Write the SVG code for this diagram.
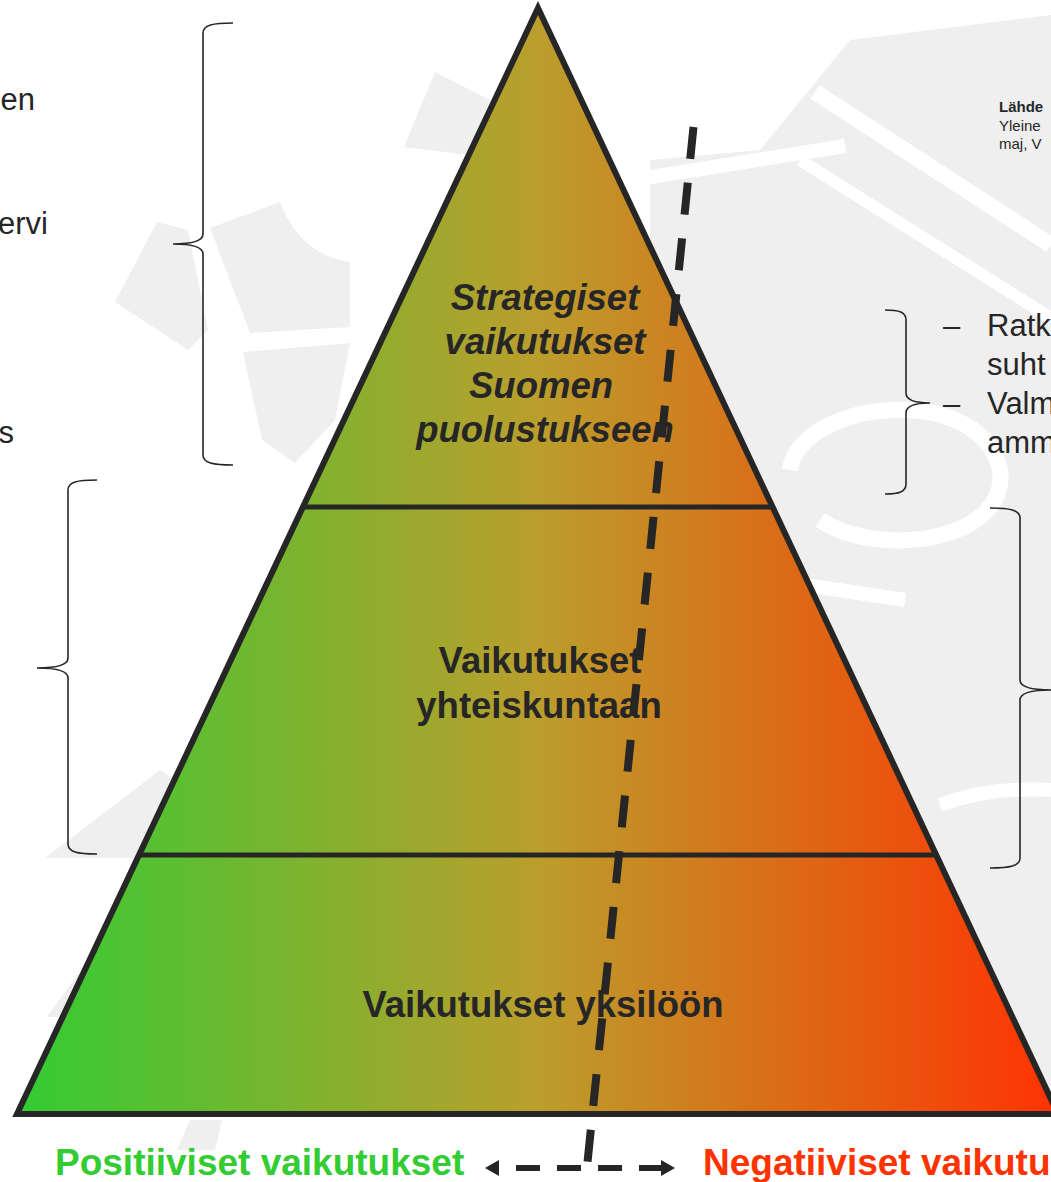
<svg xmlns="http://www.w3.org/2000/svg" width="1051" height="1182" viewBox="0 0 1051 1182">
  <defs>
    <linearGradient id="grad" gradientUnits="userSpaceOnUse" x1="17" y1="0" x2="1058" y2="0">
      <stop offset="0" stop-color="#33cc33"/>
      <stop offset="0.5" stop-color="#bb9e2c"/>
      <stop offset="1" stop-color="#ff3300"/>
    </linearGradient>
    <marker id="arrow" viewBox="0 0 14 16" refX="2" refY="8" markerWidth="14" markerHeight="16" markerUnits="userSpaceOnUse" orient="auto-start-reverse">
      <path d="M0,0 L14,8 L0,16 Z" fill="#262626"/>
    </marker>
    <style>
      .wm { fill: #efefef; }
      .wms { stroke: #ffffff; fill: none; }
      .brace { fill: none; stroke: #262626; stroke-width: 1.6; }
      .lvl { font-family: "Liberation Sans", Arial, sans-serif; font-weight: bold; font-size: 36.5px; fill: #262626; text-anchor: middle; }
      .it { font-style: italic; }
      .side { font-family: "Liberation Sans", Arial, sans-serif; font-size: 31px; fill: #262626; }
      .src { font-family: "Liberation Sans", Arial, sans-serif; font-size: 15px; fill: #262626; }
      .axis { font-family: "Liberation Sans", Arial, sans-serif; font-weight: bold; font-size: 37px; }
      .divider { stroke: #262626; stroke-width: 5; }
    </style>
  </defs>

  <rect width="1051" height="1182" fill="#ffffff"/>

  <g id="watermark">
    <path class="wm" d="M650,160 L760,150 L850,40 L1051,15 L1051,1115 L650,1115 Z"/>
    <line class="wms" x1="645" y1="178" x2="845" y2="146" stroke-width="14"/>
    <line class="wms" x1="815" y1="92" x2="1051" y2="245" stroke-width="16"/>
    <line class="wms" x1="800" y1="160" x2="1051" y2="318" stroke-width="12"/>
    <path class="wms" d="M790,470 C800,400 980,380 1000,470 C1010,540 880,560 820,520" stroke-width="16"/>
    <line class="wms" x1="805" y1="585" x2="905" y2="600" stroke-width="14"/>
    <path class="wms" d="M940,805 C980,790 1020,788 1051,790" stroke-width="14"/>
    <path class="wm" d="M404,147 L435,72 L490,100 L470,155 Z"/>
    <path class="wm" d="M115,302 L157,222 L188,230 L208,330 L188,350 Z"/>
    <path class="wm" d="M210,228 L280,202 C295,240 320,258 350,262 L350,327 L250,333 Z"/>
    <path class="wm" d="M243,352 L350,343 L335,420 L295,463 L262,440 Z"/>
    <path class="wm" d="M45,858 L160,770 L180,783 L150,858 Z"/>
    <path class="wm" d="M47,1017 L95,950 L112,962 L78,1017 Z"/>
    <path class="wm" d="M177,1150 L190,1120 L222,1120 L215,1150 Z"/>
  </g>

  <g id="pyramid">
    <polygon points="538,8 17,1114 1058,1114" fill="url(#grad)" stroke="#262626" stroke-width="6" stroke-linejoin="miter"/>
    <line class="divider" x1="303" y1="507" x2="772" y2="507"/>
    <line class="divider" x1="139" y1="855" x2="936" y2="855"/>
  </g>

  <g id="level-strategic">
    <text class="lvl it" x="545" y="310">Strategiset</text>
    <text class="lvl it" x="545" y="354">vaikutukset</text>
    <text class="lvl it" x="541" y="398">Suomen</text>
    <text class="lvl it" x="545" y="442">puolustukseen</text>
  </g>

  <g id="level-society">
    <text class="lvl" x="540" y="673">Vaikutukset</text>
    <text class="lvl" x="539" y="718">yhteiskuntaan</text>
  </g>

  <g id="level-individual">
    <text class="lvl" x="543" y="1017">Vaikutukset yksilöön</text>
  </g>

  <g id="left-notes">
    <text class="side" x="35" y="110" text-anchor="end">en</text>
    <text class="side" x="48" y="234" text-anchor="end">ervi</text>
    <text class="side" x="14" y="443" text-anchor="end">s</text>
    <path class="brace" d="M233,23 C213,23 203,25 203,33 L203,234 C203,240 196,244 173,244 C196,244 203,248 203,254 L203,455 C203,463 213,465 233,465"/>
    <path class="brace" d="M97,480 C77,480 68,482 68,490 L68,658 C68,664 61,668 37,668 C61,668 68,672 68,678 L68,844 C68,852 77,854 97,854"/>
  </g>

  <g id="right-notes">
    <path class="brace" d="M885,310 C899,310 906,312 906,320 L906,393 C906,399 912,403 930,403 C912,403 906,407 906,413 L906,484 C906,492 899,494 885,494"/>
    <path class="brace" d="M990,508 C1010,508 1020,510 1020,518 L1020,680 C1020,686 1028,690 1051,690 C1028,690 1020,694 1020,700 L1020,858 C1020,866 1010,868 990,868"/>
    <text class="side" x="943" y="336">–</text>
    <text class="side" x="987" y="336">Ratk</text>
    <text class="side" x="987" y="375">suht</text>
    <text class="side" x="943" y="414">–</text>
    <text class="side" x="987" y="414">Valm</text>
    <text class="side" x="987" y="453">amm</text>
  </g>

  <g id="source">
    <text class="src" x="999" y="112" font-weight="bold">Lähde</text>
    <text class="src" x="999" y="131">Yleine</text>
    <text class="src" x="999" y="149">maj, V</text>
  </g>

  <g id="axis-labels">
    <text class="axis" x="55" y="1175" fill="#33cc33">Positiiviset vaikutukset</text>
    <text class="axis" x="703" y="1175" fill="#ff3300">Negatiiviset vaikutukset</text>
  </g>

  <g id="connectors">
    <line x1="693.5" y1="127" x2="587" y2="1167" stroke="#262626" stroke-width="8" stroke-dasharray="32 24"/>
    <line x1="663" y1="1168" x2="497" y2="1168" stroke="#262626" stroke-width="6" stroke-dasharray="24 17" marker-start="url(#arrow)" marker-end="url(#arrow)"/>
  </g>
</svg>
